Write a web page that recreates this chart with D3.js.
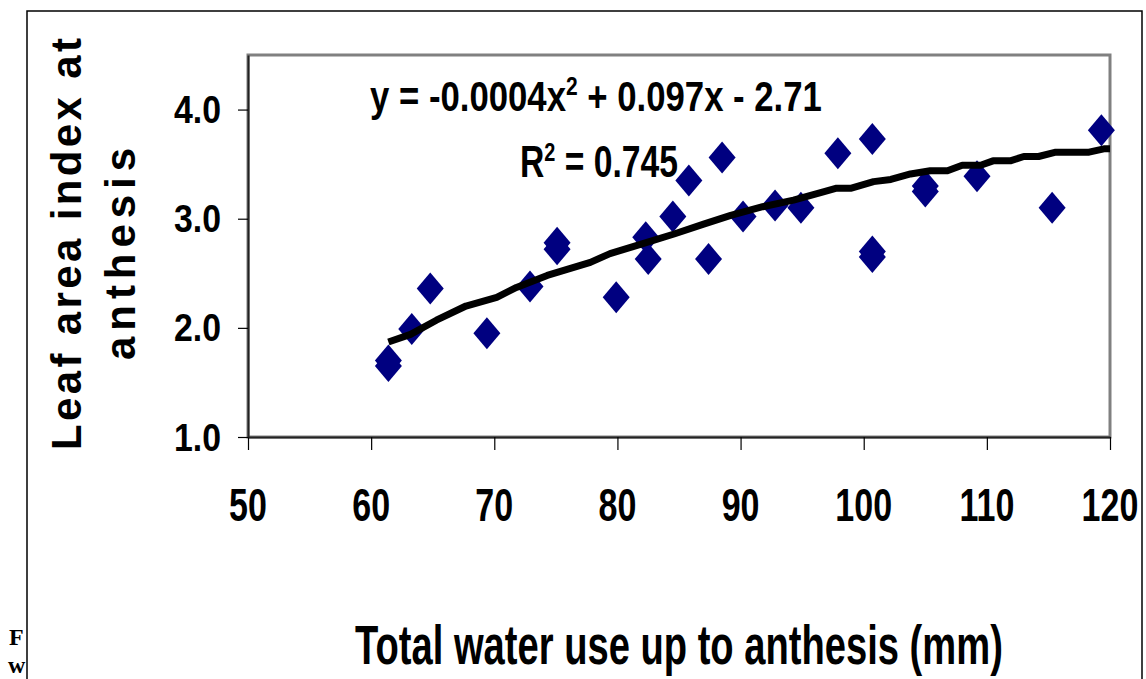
<!DOCTYPE html>
<html>
<head>
<meta charset="utf-8">
<script src="https://cdn.jsdelivr.net/npm/d3@7"></script>
<style>
  body { margin: 0; background: #fff; }
  svg { display: block; font-family: "Liberation Sans", Arial, sans-serif; font-weight: bold; }
</style>
</head>
<body>
<div id="chart"></div>
<script>
// observed points: total water use (mm) vs leaf area index at anthesis
var waterUse = [61.4, 61.4, 63.3, 64.8, 69.4, 72.9, 75.1, 75.1, 79.9, 82.3, 82.5, 84.5, 85.8, 87.4,
                88.5, 90.2, 92.8, 94.9, 97.9, 100.7, 100.7, 100.7, 105.0, 105.0, 109.2, 115.3, 119.3];
var leafArea = [1.65, 1.70, 1.99, 2.36, 1.95, 2.38, 2.72, 2.78, 2.28, 2.83, 2.63, 3.02, 3.35, 2.63,
                3.56, 3.02, 3.12, 3.10, 3.60, 3.73, 2.65, 2.70, 3.25, 3.30, 3.39, 3.10, 3.81];

// trend line as drawn in the picture
var trendX = [61.4, 63.2, 65.3, 67.7, 70.2, 71.8, 74.3, 77.8, 79.4, 82.0, 84.6, 87.0, 89.2, 91.8,
              94.3, 96.5, 97.8, 99.0, 100.8, 102.2, 103.8, 105.4, 106.8, 108.0, 109.5, 110.5,
              111.9, 113.0, 114.2, 115.6, 118.3, 119.5, 120.0];
var trendY = [1.87, 1.94, 2.07, 2.20, 2.28, 2.37, 2.48, 2.60, 2.68, 2.77, 2.86, 2.95, 3.03, 3.11,
              3.17, 3.24, 3.28, 3.28, 3.34, 3.36, 3.41, 3.44, 3.44, 3.49, 3.49, 3.53,
              3.53, 3.57, 3.57, 3.61, 3.61, 3.64, 3.64];

var xTicks = [50, 60, 70, 80, 90, 100, 110, 120];
var yTicks = [1.0, 2.0, 3.0, 4.0];

var width = 1146, height = 679;
var plotLeft = 248, plotRight = 1110, plotTop = 55, plotBottom = 437;

var x = d3.scaleLinear().domain([50, 120]).range([plotLeft, plotRight]);
var y = d3.scaleLinear().domain([1, 4.5]).range([plotBottom, plotTop]);

var svg = d3.select('#chart').append('svg')
    .attr('width', width)
    .attr('height', height);

svg.append('rect').attr('width', width).attr('height', height).attr('fill', '#fff');

// outer frame of the figure
svg.append('path')
    .attr('d', 'M27,' + height + ' L27,11 L1142,11 L1142,' + height)
    .attr('fill', 'none')
    .attr('stroke', '#000')
    .attr('stroke-width', 1.5);

// caption fragments on the left
svg.append('text').attr('x', 9).attr('y', 645)
    .style('font-family', '"Liberation Serif", serif').style('font-size', '24px').text('F');
svg.append('text').attr('x', 8).attr('y', 673)
    .style('font-family', '"Liberation Serif", serif').style('font-size', '24px').text('w');

// plot area border
svg.append('rect')
    .attr('x', plotLeft).attr('y', plotTop)
    .attr('width', plotRight - plotLeft).attr('height', plotBottom - plotTop)
    .attr('fill', 'none')
    .attr('stroke', '#808080')
    .attr('stroke-width', 3);

// axes
var xAxis = svg.append('g')
    .attr('transform', 'translate(0,' + plotBottom + ')')
    .call(d3.axisBottom(x).tickValues(xTicks).tickSizeInner(13).tickSizeOuter(0).tickFormat(''));
var yAxis = svg.append('g')
    .attr('transform', 'translate(' + plotLeft + ',0)')
    .call(d3.axisLeft(y).tickValues(yTicks).tickSizeInner(10).tickSizeOuter(0).tickFormat(''));
[xAxis, yAxis].forEach(function (g) {
  g.select('.domain').attr('stroke', '#222').attr('stroke-width', 2);
  g.selectAll('.tick line').attr('stroke', '#000').attr('stroke-width', 1.2);
});

// tick labels
svg.selectAll('.ylab')
    .data(yTicks)
    .enter().append('text')
    .attr('class', 'ylab')
    .attr('transform', d => 'translate(221,' + (y(d) + 13.5) + ') scale(0.89,1)')
    .attr('text-anchor', 'end')
    .style('font-size', '38px')
    .text(d => d3.format('.1f')(d));

svg.selectAll('.xlab')
    .data(xTicks)
    .enter().append('text')
    .attr('class', 'xlab')
    .attr('transform', d => 'translate(' + x(d) + ',521) scale(0.74,1)')
    .attr('text-anchor', 'middle')
    .style('font-size', '46px')
    .text(d => d);

// markers
var diamond = {
  draw: function (ctx) {
    ctx.moveTo(0, -16);
    ctx.lineTo(13.5, 0);
    ctx.lineTo(0, 16);
    ctx.lineTo(-13.5, 0);
    ctx.closePath();
  }
};
svg.selectAll('.pt')
    .data(d3.range(waterUse.length))
    .enter().append('path')
    .attr('class', 'pt')
    .attr('d', d3.symbol().type(diamond))
    .attr('transform', i => 'translate(' + x(waterUse[i]) + ',' + y(leafArea[i]) + ')')
    .attr('fill', '#000080');

// trend line
var line = d3.line()
    .x(i => x(trendX[i]))
    .y(i => y(trendY[i]));
svg.append('path')
    .datum(d3.range(trendX.length))
    .attr('d', line)
    .attr('fill', 'none')
    .attr('stroke', '#000')
    .attr('stroke-width', 7)
    .attr('stroke-linejoin', 'round');

// squeeze a text horizontally so it spans a given width from its start
function fitWidth(t, x0, w) {
  var bw = t.node().getBBox().width;
  t.attr('transform', 'translate(' + x0 + ',0) scale(' + (w / bw) + ',1) translate(' + (-x0) + ',0)');
}

var eq = svg.append('text').attr('x', 370).attr('y', 111).style('font-size', '43px');
eq.append('tspan').text('y = -0.0004x');
eq.append('tspan').attr('dy', -16).style('font-size', '26px').text('2');
eq.append('tspan').attr('dy', 16).text(' + 0.097x - 2.71');
fitWidth(eq, 370, 452);

var r2 = svg.append('text').attr('x', 520).attr('y', 177).style('font-size', '44px');
r2.append('tspan').text('R');
r2.append('tspan').attr('dy', -16).style('font-size', '26px').text('2');
r2.append('tspan').attr('dy', 16).text(' = 0.745');
fitWidth(r2, 520, 158);

var xt = svg.append('text').attr('x', 355).attr('y', 664).style('font-size', '56px')
    .text('Total water use up to anthesis (mm)');
fitWidth(xt, 355, 648);

// y axis title, two lines with wide letter spacing
svg.append('text')
    .attr('transform', 'translate(81,450) rotate(-90)')
    .attr('textLength', 412).attr('lengthAdjust', 'spacing')
    .style('font-size', '42px')
    .text('Leaf area index at');
svg.append('text')
    .attr('transform', 'translate(135,360) rotate(-90)')
    .attr('textLength', 212).attr('lengthAdjust', 'spacing')
    .style('font-size', '42px')
    .text('anthesis');
</script>
</body>
</html>
